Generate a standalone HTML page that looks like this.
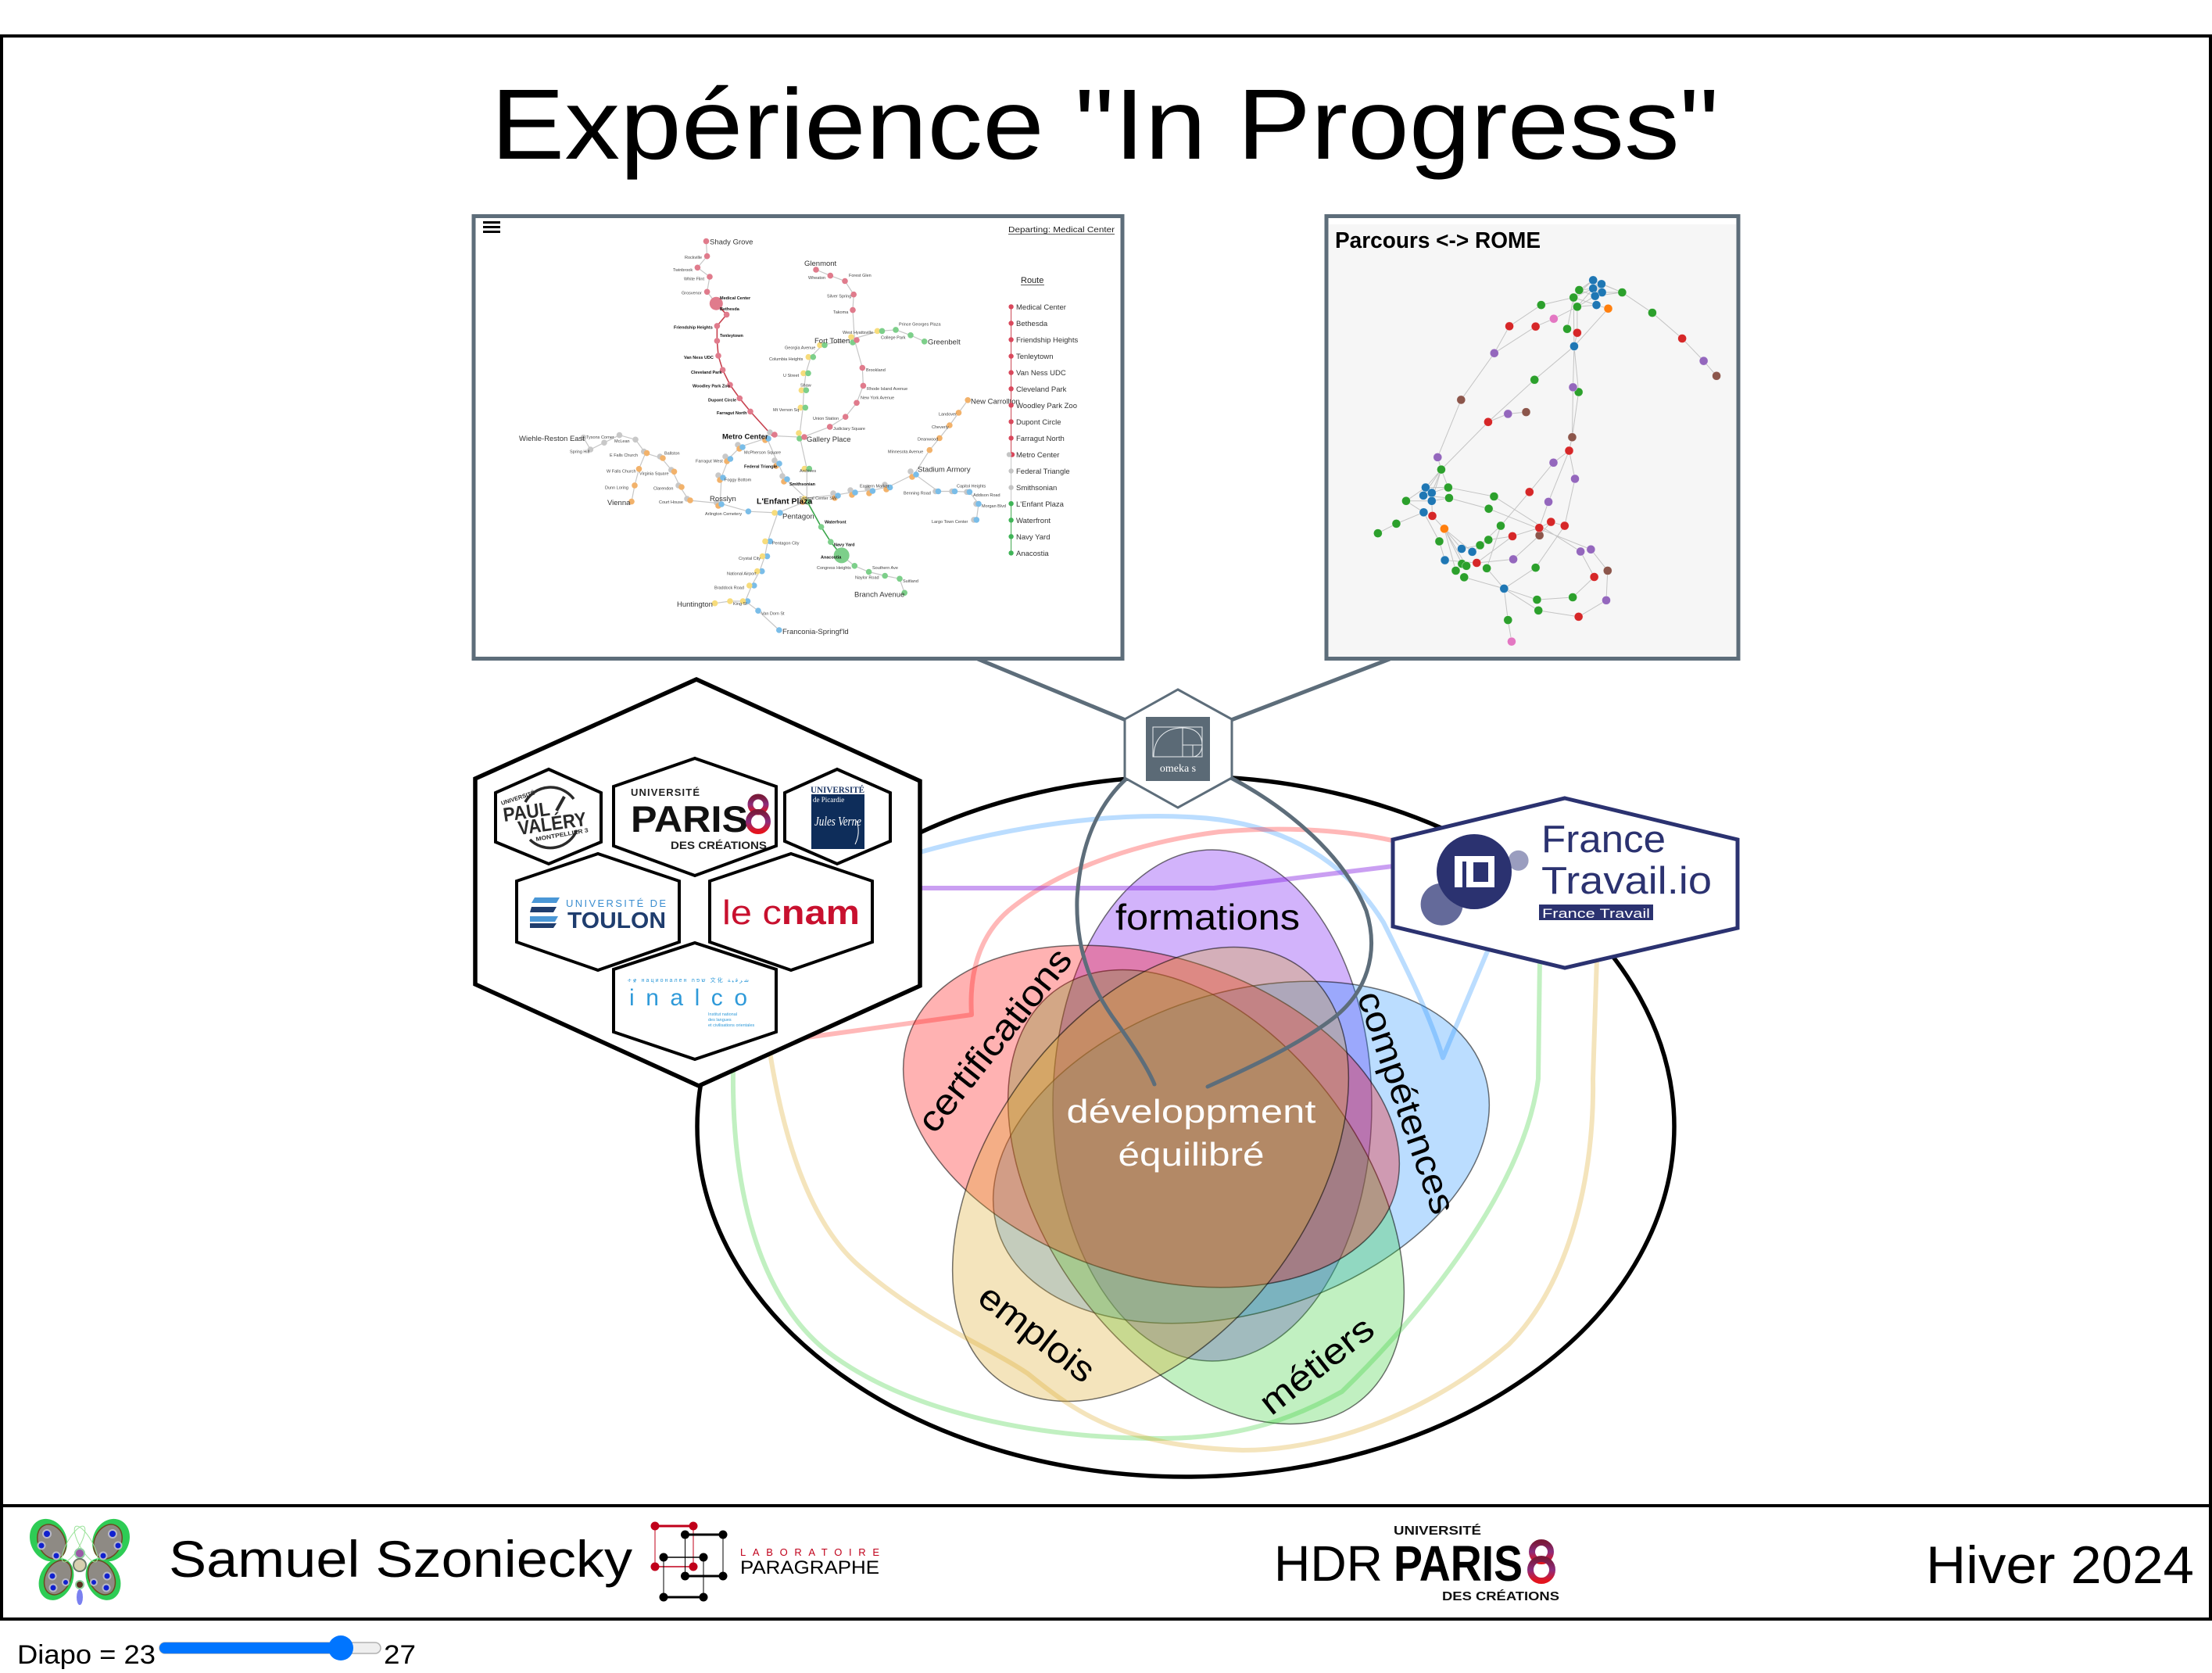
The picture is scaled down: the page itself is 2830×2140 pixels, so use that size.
<!DOCTYPE html>
<html><head><meta charset="utf-8"><style>html,body{margin:0;padding:0;background:#fff;width:2830px;height:2140px;overflow:hidden}svg{display:block}</style></head>
<body>
<svg width="2830" height="2140" viewBox="0 0 2830 2140" xmlns="http://www.w3.org/2000/svg" font-family="'Liberation Sans', Arial, sans-serif">
<defs>
<linearGradient id="g8" x1="0" y1="0" x2="0" y2="1"><stop offset="0" stop-color="#7a1a3a"/><stop offset="0.5" stop-color="#8b2c7d"/><stop offset="1" stop-color="#e3141e"/></linearGradient>
</defs>
<rect x="0" y="0" width="2830" height="2140" fill="#fff"/>
<!-- frame -->
<rect x="2" y="46" width="2826" height="1880" fill="none" stroke="#000" stroke-width="4"/>
<rect x="2" y="1926" width="2826" height="145" fill="none" stroke="#000" stroke-width="4"/>
<!-- title -->
<text x="628" y="203" font-size="128" textLength="1571" lengthAdjust="spacingAndGlyphs" fill="#000">Expérience "In Progress"</text>

<!-- METRO MAP BOX -->
<rect x="606" y="276.5" width="830" height="566" fill="#fff" stroke="#5d6d7a" stroke-width="5"/>
<rect x="618" y="283" width="22" height="3" fill="#000"/><rect x="618" y="289" width="22" height="3" fill="#000"/><rect x="618" y="295" width="22" height="3" fill="#000"/>
<text x="1290" y="297" font-size="10" textLength="136" lengthAdjust="spacingAndGlyphs" fill="#222">Departing: Medical Center</text>
<line x1="1290" y1="299.5" x2="1426" y2="299.5" stroke="#222" stroke-width="0.8"/>
<g fill="none" stroke="#c6c6c6" stroke-width="1.2">
<polyline points="903.5,308.6 904.6,327.7 892.4,342.3 908,354 904.6,373.3 916.3,388.2 929.6,402.4 917.4,416.9 917.4,436 919,455 924.6,473.2 934,492.3 946.3,509.5 960,526.4 988,557.4 1026.7,559.3 1061.7,545.9 1081.7,533.2 1096,515.3 1104.4,493.4 1103.3,470.5 1093.3,434.9 1091,396.6 1092.2,376.7 1081,359.5 1062.3,352.6 1044,345"/>
<polyline points="1182.7,436.8 1165,428.8 1146,421.9 1125.5,423.4 1089.4,434 1052,441.4 1037.3,456.7 1031,477.4 1028.4,499.2 1027.3,521.4 1022.9,557 1032.3,599.5 1032.3,640.8 1050.6,674 1062.8,693.2 1076.7,710.4 1093.3,723.8 1111.6,731.5 1132.2,736.5 1151,740.3 1157.2,758.3"/>
<polyline points="1032.3,640.8 995,656 982.3,692.4 978.5,711.6 971.8,730.7 961.8,749 953.5,769 934,769 914.6,771.7"/>
<polyline points="953.5,769 970,781.2 996.8,806"/>
<polyline points="995,656 957.4,654.2 921.3,643.9"/>
<polyline points="921.3,643.9 923,610.2 932.4,586.4 948,571.1 981.2,560.4 995,592.2 1005,612.8 1031,637 1070,633.1 1092,629.3 1114.4,627.4 1136.6,622.8 1169.9,606.3 1189.3,575.7 1202,560.4 1214.9,544 1226.5,527.9 1238.2,511.8"/>
<polyline points="1169.9,606.3 1200.4,628.5 1221.5,628.5 1240.4,629.3 1252,644.6 1249.3,664.9"/>
<polyline points="921.3,643.9 881.3,640 870.2,622.8 860.8,603.3 846.4,586 825.8,579.6 817.5,599.8 812,620.9 808,641.6"/>
<polyline points="825.8,579.6 813,562.3 792.5,556.6 773,566.2 755.4,575 746.5,559.7"/>
</g>
<polyline fill="none" stroke="#c8424f" stroke-width="1.6" points="916.3,388.2 929.6,402.4 917.4,416.9 917.4,436 919,455 924.6,473.2 934,492.3 946.3,509.5 960,526.4 988,557.4"/>
<polyline fill="none" stroke="#3aa64a" stroke-width="1.6" points="1032.3,640.8 1050.6,674 1062.8,693.2 1076.7,710.4"/>
<g fill="#c8c8c8">
<circle cx="917" cy="643" r="3.8"/><circle cx="919" cy="608" r="3.8"/><circle cx="928" cy="584" r="3.8"/><circle cx="944" cy="569" r="3.8"/><circle cx="985" cy="553" r="3.8"/><circle cx="991" cy="589" r="3.8"/><circle cx="1001" cy="609" r="3.8"/><circle cx="1066" cy="631" r="3.8"/><circle cx="1088" cy="627" r="3.8"/><circle cx="1110" cy="625" r="3.8"/><circle cx="1132" cy="620" r="3.8"/><circle cx="1165" cy="603" r="3.8"/><circle cx="1197" cy="628.5" r="3.8"/><circle cx="1218" cy="628.5" r="3.8"/><circle cx="1237" cy="629.3" r="3.8"/><circle cx="1249" cy="644.6" r="3.8"/><circle cx="1246" cy="664.9" r="3.8"/><circle cx="879" cy="638" r="3.8"/><circle cx="868" cy="621" r="3.8"/><circle cx="858.8" cy="601" r="3.8"/><circle cx="844.4" cy="584" r="3.8"/><circle cx="823.8" cy="577.6" r="3.8"/><circle cx="813" cy="562.3" r="3.8"/><circle cx="792.5" cy="556.6" r="3.8"/><circle cx="773" cy="566.2" r="3.8"/><circle cx="755.4" cy="575" r="3.8"/><circle cx="746.5" cy="559.7" r="3.8"/>
</g>
<g fill="#f2b26b">
<circle cx="919" cy="647" r="3.8"/><circle cx="921" cy="614" r="3.8"/><circle cx="930" cy="590" r="3.8"/><circle cx="946" cy="574" r="3.8"/><circle cx="979" cy="563" r="3.8"/><circle cx="993" cy="596" r="3.8"/><circle cx="1003" cy="616" r="3.8"/><circle cx="1027" cy="642" r="3.8"/><circle cx="1068" cy="637" r="3.8"/><circle cx="1090" cy="633" r="3.8"/><circle cx="1112" cy="631" r="3.8"/><circle cx="1134" cy="626" r="3.8"/><circle cx="1167" cy="610" r="3.8"/><circle cx="1189.3" cy="575.7" r="3.8"/><circle cx="1202" cy="560.4" r="3.8"/><circle cx="1214.9" cy="544" r="3.8"/><circle cx="1226.5" cy="527.9" r="3.8"/><circle cx="1238.2" cy="511.8" r="3.8"/><circle cx="883" cy="640" r="3.8"/><circle cx="872" cy="623" r="3.8"/><circle cx="862.5" cy="603.3" r="3.8"/><circle cx="848" cy="586" r="3.8"/><circle cx="827.5" cy="579.6" r="3.8"/><circle cx="817.5" cy="599.8" r="3.8"/><circle cx="812" cy="620.9" r="3.8"/><circle cx="808" cy="641.6" r="3.8"/>
</g>
<g fill="#7abde8">
<circle cx="998" cy="656" r="3.8"/><circle cx="985.3" cy="692.4" r="3.8"/><circle cx="981.5" cy="711.6" r="3.8"/><circle cx="974.8" cy="730.7" r="3.8"/><circle cx="964.8" cy="749" r="3.8"/><circle cx="956.5" cy="769" r="3.8"/><circle cx="970" cy="781.2" r="3.8"/><circle cx="996.8" cy="806" r="3.8"/><circle cx="957.4" cy="654.2" r="3.8"/><circle cx="923" cy="645" r="3.8"/><circle cx="925" cy="611" r="3.8"/><circle cx="934.4" cy="587" r="3.8"/><circle cx="950" cy="572" r="3.8"/><circle cx="983" cy="561" r="3.8"/><circle cx="997" cy="593" r="3.8"/><circle cx="1007" cy="613" r="3.8"/><circle cx="1072" cy="634" r="3.8"/><circle cx="1094" cy="630" r="3.8"/><circle cx="1116.4" cy="628" r="3.8"/><circle cx="1138.6" cy="623.5" r="3.8"/><circle cx="1172" cy="607" r="3.8"/><circle cx="1200.4" cy="628.5" r="3.8"/><circle cx="1221.5" cy="628.5" r="3.8"/><circle cx="1240.4" cy="629.3" r="3.8"/><circle cx="1252" cy="644.6" r="3.8"/><circle cx="1249.3" cy="664.9" r="3.8"/>
</g>
<g fill="#f7dc7c">
<circle cx="1089" cy="431" r="3.8"/><circle cx="1049" cy="441.4" r="3.8"/><circle cx="1034.3" cy="456.7" r="3.8"/><circle cx="1028" cy="477.4" r="3.8"/><circle cx="1025.4" cy="499.2" r="3.8"/><circle cx="1024.3" cy="521.4" r="3.8"/><circle cx="1022" cy="554" r="3.8"/><circle cx="1029.3" cy="599.5" r="3.8"/><circle cx="1029" cy="638" r="3.8"/><circle cx="991" cy="656" r="3.8"/><circle cx="979" cy="692.4" r="3.8"/><circle cx="975.5" cy="711.6" r="3.8"/><circle cx="968.8" cy="730.7" r="3.8"/><circle cx="958.8" cy="749" r="3.8"/><circle cx="950.5" cy="769" r="3.8"/><circle cx="934" cy="769" r="3.8"/><circle cx="914.6" cy="771.7" r="3.8"/><circle cx="1122.5" cy="423.4" r="3.8"/>
</g>
<g fill="#7dcf8a">
<circle cx="1182.7" cy="436.8" r="3.8"/><circle cx="1165" cy="428.8" r="3.8"/><circle cx="1146" cy="421.9" r="3.8"/><circle cx="1128.5" cy="423.4" r="3.8"/><circle cx="1091" cy="438" r="3.8"/><circle cx="1055" cy="441.4" r="3.8"/><circle cx="1040.3" cy="456.7" r="3.8"/><circle cx="1034" cy="477.4" r="3.8"/><circle cx="1031.4" cy="499.2" r="3.8"/><circle cx="1030.3" cy="521.4" r="3.8"/><circle cx="1022.9" cy="561" r="3.8"/><circle cx="1035.3" cy="599.5" r="3.8"/><circle cx="1034" cy="642" r="3.8"/><circle cx="1050.6" cy="674" r="3.8"/><circle cx="1062.8" cy="693.2" r="3.8"/><circle cx="1076.7" cy="710.4" r="10"/><circle cx="1093.3" cy="723.8" r="3.8"/><circle cx="1111.6" cy="731.5" r="3.8"/><circle cx="1132.2" cy="736.5" r="3.8"/><circle cx="1151" cy="740.3" r="3.8"/><circle cx="1157.2" cy="758.3" r="3.8"/>
</g>
<g fill="#e07b8c">
<circle cx="903.5" cy="308.6" r="3.8"/><circle cx="904.6" cy="327.7" r="3.8"/><circle cx="892.4" cy="342.3" r="3.8"/><circle cx="908" cy="354" r="3.8"/><circle cx="904.6" cy="373.3" r="3.8"/><circle cx="916.3" cy="388.2" r="8.5"/><circle cx="929.6" cy="402.4" r="3.8"/><circle cx="917.4" cy="416.9" r="3.8"/><circle cx="917.4" cy="436" r="3.8"/><circle cx="919" cy="455" r="3.8"/><circle cx="924.6" cy="473.2" r="3.8"/><circle cx="934" cy="492.3" r="3.8"/><circle cx="946.3" cy="509.5" r="3.8"/><circle cx="960" cy="526.4" r="3.8"/><circle cx="991" cy="556" r="3.8"/><circle cx="1029" cy="559" r="3.8"/><circle cx="1061.7" cy="545.9" r="3.8"/><circle cx="1081.7" cy="533.2" r="3.8"/><circle cx="1096" cy="515.3" r="3.8"/><circle cx="1104.4" cy="493.4" r="3.8"/><circle cx="1103.3" cy="470.5" r="3.8"/><circle cx="1096" cy="435" r="3.8"/><circle cx="1091" cy="396.6" r="3.8"/><circle cx="1092.2" cy="376.7" r="3.8"/><circle cx="1081" cy="359.5" r="3.8"/><circle cx="1062.3" cy="352.6" r="3.8"/><circle cx="1044" cy="345" r="3.8"/>
</g>
<g font-size="9.5" fill="#333">
<text x="908" y="312.4">Shady Grove</text><text x="1029" y="340">Glenmont</text><text x="1187" y="440.6">Greenbelt</text><text x="1042" y="439">Fort Totten</text>
<text x="924" y="561.6" font-weight="bold" fill="#111">Metro Center</text><text x="1032" y="565">Gallery Place</text><text x="664" y="564.2">Wiehle-Reston East</text>
<text x="777" y="645.8">Vienna</text><text x="908" y="640.8">Rosslyn</text><text x="968" y="644.6" font-weight="bold" font-size="10.5" fill="#111">L'Enfant Plaza</text>
<text x="1001" y="663.7">Pentagon</text><text x="1174" y="603.3">Stadium Armory</text><text x="1242" y="516.4">New Carrollton</text>
<text x="1093" y="763.3">Branch Avenue</text><text x="866" y="775.9">Huntington</text><text x="1001" y="811">Franconia-Springf'ld</text>
</g>
<g font-size="5.5" fill="#444">
<text x="876" y="330.8">Rockville</text><text x="861" y="346.9">Twinbrook</text><text x="875" y="358.4">White Flint</text><text x="872" y="376.7">Grosvenor</text>
<g font-weight="bold" fill="#111"><text x="921" y="383.2">Medical Center</text><text x="921" y="397">Bethesda</text><text x="862" y="420.7">Friendship Heights</text><text x="921" y="431">Tenleytown</text><text x="875" y="459">Van Ness UDC</text><text x="884" y="477.8">Cleveland Park</text><text x="886" y="495.4">Woodley Park Zoo</text><text x="906" y="513.3">Dupont Circle</text><text x="917" y="530.2">Farragut North</text><text x="952" y="598.3">Federal Triangle</text><text x="1010" y="621">Smithsonian</text><text x="1055" y="669.5">Waterfront</text><text x="1067" y="698.6">Navy Yard</text><text x="1050" y="714.6">Anacostia</text></g>
<text x="1034" y="356.8">Wheaton</text><text x="1086" y="354">Forest Glen</text><text x="1058" y="380.5">Silver Spring</text><text x="1066" y="400.8">Takoma</text><text x="1078" y="427.2">West Hyattsville</text><text x="1150" y="416.5">Prince Georges Plaza</text><text x="1127" y="433.4">College Park</text><text x="1004" y="446.4">Georgia Avenue</text><text x="984" y="461">Columbia Heights</text><text x="1002" y="482">U Street</text><text x="1024" y="494.6">Shaw</text><text x="989" y="526">Mt Vernon Sq</text><text x="1108" y="475">Brookland</text><text x="1109" y="498.8">Rhode Island Avenue</text><text x="1101" y="510.3">New York Avenue</text><text x="1040" y="537">Union Station</text><text x="1066" y="550">Judiciary Square</text>
<text x="952" y="580.3">McPherson Square</text><text x="890" y="591.4">Farragut West</text><text x="1023" y="604">Archives</text><text x="927" y="615.5">Foggy Bottom</text><text x="1023" y="638.9">Federal Center SW</text><text x="1100" y="623.6">Eastern Market</text><text x="1156" y="632.7">Benning Road</text><text x="1224" y="623.6">Capitol Heights</text><text x="1245" y="635">Addison Road</text><text x="1256" y="649.2">Morgan Blvd</text><text x="1192" y="669">Largo Town Center</text><text x="1136" y="579.6">Minnesota Avenue</text><text x="1174" y="563.5">Deanwood</text><text x="1192" y="548.2">Cheverly</text><text x="1201" y="531.3">Landover</text>
<text x="729" y="579.6">Spring Hill</text><text x="750" y="561.2">Tysons Corner</text><text x="786" y="566.2">McLean</text><text x="780" y="583.8">E Falls Church</text><text x="850" y="581.5">Ballston</text><text x="776" y="604.4">W Falls Church</text><text x="818" y="607.5">Virginia Square</text><text x="774" y="625.5">Dunn Loring</text><text x="836" y="626.6">Clarendon</text><text x="843" y="643.8">Court House</text><text x="902" y="659.2">Arlington Cemetery</text>
<text x="1045" y="728">Congress Heights</text><text x="1116" y="728">Southern Ave</text><text x="1094" y="740.3">Naylor Road</text><text x="1155" y="745.2">Suitland</text>
<text x="988" y="696.3">Pentagon City</text><text x="945" y="716.2">Crystal City</text><text x="930" y="735.3">National Airport</text><text x="914" y="753.7">Braddock Road</text><text x="938" y="774">King St</text><text x="974" y="786.6">Van Dorn St</text>
</g>
<!-- legend -->
<text x="1306" y="362" font-size="11" fill="#222">Route</text><line x1="1306" y1="364.5" x2="1336" y2="364.5" stroke="#222" stroke-width="0.8"/>
<line x1="1293.6" y1="392.4" x2="1293.6" y2="581.5" stroke="#c8424f" stroke-width="1"/>
<line x1="1293.6" y1="581.5" x2="1293.6" y2="644.2" stroke="#c6c6c6" stroke-width="1"/>
<line x1="1293.6" y1="644.2" x2="1293.6" y2="707.4" stroke="#3aa64a" stroke-width="1"/>
<g fill="#d9485c"><circle cx="1293.6" cy="392.4" r="3.2"/><circle cx="1293.6" cy="413.5" r="3.2"/><circle cx="1293.6" cy="434.5" r="3.2"/><circle cx="1293.6" cy="455.6" r="3.2"/><circle cx="1293.6" cy="476.6" r="3.2"/><circle cx="1293.6" cy="497.3" r="3.2"/><circle cx="1293.6" cy="518.3" r="3.2"/><circle cx="1293.6" cy="539.4" r="3.2"/><circle cx="1293.6" cy="560.4" r="3.2"/><circle cx="1295" cy="581.5" r="3.2"/></g>
<g fill="#c4c4c4"><circle cx="1291" cy="581.5" r="3.2"/><circle cx="1293.6" cy="602.5" r="3.2"/><circle cx="1293.6" cy="623.6" r="3.2"/></g>
<g fill="#3fb457"><circle cx="1293.6" cy="644.2" r="3.2"/><circle cx="1293.6" cy="665.3" r="3.2"/><circle cx="1293.6" cy="686.3" r="3.2"/><circle cx="1293.6" cy="707.4" r="3.2"/></g>
<g font-size="9.5" fill="#333">
<text x="1300" y="396">Medical Center</text><text x="1300" y="417">Bethesda</text><text x="1300" y="438">Friendship Heights</text><text x="1300" y="459">Tenleytown</text><text x="1300" y="480">Van Ness UDC</text><text x="1300" y="501">Cleveland Park</text><text x="1300" y="522">Woodley Park Zoo</text><text x="1300" y="543">Dupont Circle</text><text x="1300" y="564">Farragut North</text><text x="1300" y="585">Metro Center</text><text x="1300" y="606">Federal Triangle</text><text x="1300" y="627">Smithsonian</text><text x="1300" y="648">L'Enfant Plaza</text><text x="1300" y="669">Waterfront</text><text x="1300" y="690">Navy Yard</text><text x="1300" y="711">Anacostia</text>
</g>

<!-- PARCOURS BOX -->
<rect x="1697" y="276.5" width="527" height="566" fill="#f6f6f6" stroke="#5d6d7a" stroke-width="5"/>
<rect x="1700" y="279" width="521" height="8" fill="#fff"/>
<text x="1708" y="317" font-size="29" font-weight="bold" textLength="263" lengthAdjust="spacingAndGlyphs" fill="#000">Parcours &lt;-&gt; ROME</text>
<g transform="translate(1680,260) scale(0.35714,0.3827)">
<g stroke="#c4c4c4" stroke-width="1" fill="none">
<path vector-effect="non-scaling-stroke" d="M953,290L1003,257M953,290L1003,285M953,290L1010,310M933,315L1003,257M933,315L1003,285M933,315L1015,340M946,346L1003,285M946,346L1010,310M946,346L1015,340M1107,298L1003,257M1107,298L1033,270M1107,298L1035,298M1107,298L1010,310M1003,257L1035,298M1003,285L1015,340M1033,270L1010,310M1015,340L1057,352
M933,315L817,340L703,411L649,501L530,657L446,849L459,890
M946,346L862,386L797,412L649,501
M946,346L946,433L935,478M933,315L935,478M910,420L933,315M1057,352L935,478
M1107,298L1215,366L1322,452L1399,527L1445,577
M935,478L931,615L928,782M951,631L928,782M935,478L951,631
M935,478L793,590L627,731L459,890M627,731L698,704L763,698
M928,782L917,827L861,867L775,965L672,1078L598,1143M917,827L843,998L810,1085M917,827L938,921L901,1078L797,1218L684,1288
M459,890L403,950M459,890L395,977M459,890L425,968M459,890L425,995M459,890L484,950M403,950L484,950M395,977L487,985M425,995L487,985M425,968L484,950
M333,995L403,950M333,995L425,995M333,995L396,1033L298,1071L232,1103
M484,950L648,980L958,1164M487,985L629,1021L995,1157
M958,1164L1007,1249L930,1317L802,1325L684,1288M995,1157L1055,1228L1050,1327L951,1382L807,1361L684,1288
M425,995L427,1045L470,1088M396,1033L452,1130L472,1193
M470,1088L532,1155M470,1088L570,1165M470,1088L533,1205M470,1088L549,1212M470,1088L511,1228
M472,1193L586,1202M532,1155L598,1143M570,1165L628,1125M586,1202L714,1113L810,1085L852,1065M586,1202L717,1190L811,1110L852,1065
M684,1288L698,1393L711,1465M541,1250L684,1288M622,1220L684,1288M628,1125L714,1113M622,1220L672,1078M852,1065L901,1078"/>
</g>
<g stroke="#fff" stroke-width="1">
<g fill="#8c564b"><ellipse cx="1445" cy="577" rx="15.4" ry="14.4"/><ellipse cx="530" cy="657" rx="15.4" ry="14.4"/><ellipse cx="763" cy="698" rx="15.4" ry="14.4"/><ellipse cx="928" cy="782" rx="15.4" ry="14.4"/><ellipse cx="811" cy="1110" rx="15.4" ry="14.4"/><ellipse cx="1055" cy="1228" rx="15.4" ry="14.4"/></g>
<g fill="#2ca02c"><ellipse cx="953" cy="290" rx="15.4" ry="14.4"/><ellipse cx="933" cy="315" rx="15.4" ry="14.4"/><ellipse cx="946" cy="346" rx="15.4" ry="14.4"/><ellipse cx="1107" cy="298" rx="15.4" ry="14.4"/><ellipse cx="817" cy="340" rx="15.4" ry="14.4"/><ellipse cx="1215" cy="366" rx="15.4" ry="14.4"/><ellipse cx="910" cy="420" rx="15.4" ry="14.4"/><ellipse cx="793" cy="590" rx="15.4" ry="14.4"/><ellipse cx="951" cy="631" rx="15.4" ry="14.4"/><ellipse cx="459" cy="890" rx="15.4" ry="14.4"/><ellipse cx="484" cy="950" rx="15.4" ry="14.4"/><ellipse cx="487" cy="985" rx="15.4" ry="14.4"/><ellipse cx="333" cy="995" rx="15.4" ry="14.4"/><ellipse cx="648" cy="980" rx="15.4" ry="14.4"/><ellipse cx="629" cy="1021" rx="15.4" ry="14.4"/><ellipse cx="298" cy="1071" rx="15.4" ry="14.4"/><ellipse cx="232" cy="1103" rx="15.4" ry="14.4"/><ellipse cx="672" cy="1078" rx="15.4" ry="14.4"/><ellipse cx="452" cy="1130" rx="15.4" ry="14.4"/><ellipse cx="598" cy="1143" rx="15.4" ry="14.4"/><ellipse cx="628" cy="1125" rx="15.4" ry="14.4"/><ellipse cx="533" cy="1205" rx="15.4" ry="14.4"/><ellipse cx="549" cy="1212" rx="15.4" ry="14.4"/><ellipse cx="511" cy="1228" rx="15.4" ry="14.4"/><ellipse cx="541" cy="1250" rx="15.4" ry="14.4"/><ellipse cx="622" cy="1220" rx="15.4" ry="14.4"/><ellipse cx="797" cy="1218" rx="15.4" ry="14.4"/><ellipse cx="802" cy="1325" rx="15.4" ry="14.4"/><ellipse cx="930" cy="1317" rx="15.4" ry="14.4"/><ellipse cx="807" cy="1361" rx="15.4" ry="14.4"/><ellipse cx="698" cy="1393" rx="15.4" ry="14.4"/></g>
<g fill="#1f77b4"><ellipse cx="1003" cy="257" rx="15.4" ry="14.4"/><ellipse cx="1033" cy="270" rx="15.4" ry="14.4"/><ellipse cx="1003" cy="285" rx="15.4" ry="14.4"/><ellipse cx="1035" cy="298" rx="15.4" ry="14.4"/><ellipse cx="1010" cy="310" rx="15.4" ry="14.4"/><ellipse cx="1015" cy="340" rx="15.4" ry="14.4"/><ellipse cx="935" cy="478" rx="15.4" ry="14.4"/><ellipse cx="403" cy="950" rx="15.4" ry="14.4"/><ellipse cx="425" cy="968" rx="15.4" ry="14.4"/><ellipse cx="395" cy="977" rx="15.4" ry="14.4"/><ellipse cx="425" cy="995" rx="15.4" ry="14.4"/><ellipse cx="396" cy="1033" rx="15.4" ry="14.4"/><ellipse cx="532" cy="1155" rx="15.4" ry="14.4"/><ellipse cx="570" cy="1165" rx="15.4" ry="14.4"/><ellipse cx="472" cy="1193" rx="15.4" ry="14.4"/><ellipse cx="684" cy="1288" rx="15.4" ry="14.4"/></g>
<g fill="#d62728"><ellipse cx="703" cy="411" rx="15.4" ry="14.4"/><ellipse cx="797" cy="412" rx="15.4" ry="14.4"/><ellipse cx="946" cy="433" rx="15.4" ry="14.4"/><ellipse cx="1322" cy="452" rx="15.4" ry="14.4"/><ellipse cx="627" cy="731" rx="15.4" ry="14.4"/><ellipse cx="917" cy="827" rx="15.4" ry="14.4"/><ellipse cx="775" cy="965" rx="15.4" ry="14.4"/><ellipse cx="427" cy="1045" rx="15.4" ry="14.4"/><ellipse cx="852" cy="1065" rx="15.4" ry="14.4"/><ellipse cx="810" cy="1085" rx="15.4" ry="14.4"/><ellipse cx="901" cy="1078" rx="15.4" ry="14.4"/><ellipse cx="714" cy="1113" rx="15.4" ry="14.4"/><ellipse cx="586" cy="1202" rx="15.4" ry="14.4"/><ellipse cx="1007" cy="1249" rx="15.4" ry="14.4"/><ellipse cx="951" cy="1382" rx="15.4" ry="14.4"/></g>
<g fill="#9467bd"><ellipse cx="649" cy="501" rx="15.4" ry="14.4"/><ellipse cx="1399" cy="527" rx="15.4" ry="14.4"/><ellipse cx="931" cy="615" rx="15.4" ry="14.4"/><ellipse cx="698" cy="704" rx="15.4" ry="14.4"/><ellipse cx="446" cy="849" rx="15.4" ry="14.4"/><ellipse cx="861" cy="867" rx="15.4" ry="14.4"/><ellipse cx="938" cy="921" rx="15.4" ry="14.4"/><ellipse cx="843" cy="998" rx="15.4" ry="14.4"/><ellipse cx="958" cy="1164" rx="15.4" ry="14.4"/><ellipse cx="995" cy="1157" rx="15.4" ry="14.4"/><ellipse cx="717" cy="1190" rx="15.4" ry="14.4"/><ellipse cx="1050" cy="1327" rx="15.4" ry="14.4"/></g>
<g fill="#ff7f0e"><ellipse cx="1057" cy="352" rx="15.4" ry="14.4"/><ellipse cx="470" cy="1088" rx="15.4" ry="14.4"/></g>
<g fill="#e377c2"><ellipse cx="862" cy="386" rx="15.4" ry="14.4"/><ellipse cx="711" cy="1465" rx="15.4" ry="14.4"/></g>
</g>
</g>

<!-- connectors to omeka -->
<line x1="1251" y1="843" x2="1440" y2="921" stroke="#5d6d7a" stroke-width="5"/>
<line x1="1778" y1="843" x2="1575" y2="921" stroke="#5d6d7a" stroke-width="5"/>

<!-- big ellipse -->
<ellipse cx="1517" cy="1441" rx="625" ry="448" fill="none" stroke="#000" stroke-width="5.5"/>

<!-- Venn ellipses -->
<g stroke="#000" stroke-opacity="0.55" stroke-width="1.5" fill-opacity="0.3">
<ellipse cx="0" cy="0" rx="204" ry="327" fill="rgb(105,2,242)" transform="translate(1551,1414)"/>
<ellipse cx="0" cy="0" rx="204" ry="327" fill="rgb(30,144,255)" transform="translate(1588,1474) rotate(72)"/>
<ellipse cx="0" cy="0" rx="204" ry="327" fill="rgb(50,205,50)" transform="translate(1543,1531) rotate(-36)"/>
<ellipse cx="0" cy="0" rx="204" ry="327" fill="rgb(255,0,0)" transform="translate(1473,1428) rotate(-72)"/>
<ellipse cx="0" cy="0" rx="204" ry="327" fill="rgb(218,165,32)" transform="translate(1472,1502) rotate(36)"/>
</g>

<!-- colored curves -->
<g fill="none" stroke-width="6" stroke-linejoin="round">
<path d="M1170,1092 C1300,1055 1420,1040 1520,1045 C1640,1050 1720,1100 1770,1180 C1800,1240 1830,1300 1846,1353 L1910,1200" stroke="rgb(30,144,255)" stroke-opacity="0.3"/>
<path d="M1025,1328 L1243,1298 C1240,1250 1250,1200 1290,1165 C1350,1115 1450,1078 1560,1064 C1650,1056 1730,1063 1790,1077" stroke="rgb(255,0,0)" stroke-opacity="0.28"/>
<path d="M1170,1136 L1553,1136 L1790,1107" stroke="rgb(138,43,226)" stroke-opacity="0.45"/>
<path d="M938,1368 C936,1520 970,1660 1060,1730 C1160,1805 1320,1840 1485,1840 C1590,1840 1660,1812 1717,1780 C1820,1680 1950,1520 1968,1380 L1970,1225" stroke="rgb(50,205,50)" stroke-opacity="0.3"/>
<path d="M985,1346 C1000,1440 1030,1560 1100,1620 C1180,1690 1260,1720 1315,1757 C1380,1810 1440,1850 1590,1855 C1720,1855 1850,1790 1930,1720 C2010,1640 2040,1500 2038,1380 L2043,1225" stroke="rgb(218,165,32)" stroke-opacity="0.3"/>
</g>

<!-- Venn labels -->
<g font-size="46" fill="#000" text-anchor="middle">
<text x="1545" y="1189" textLength="236" lengthAdjust="spacingAndGlyphs">formations</text>
<text transform="translate(1272,1330) rotate(-51.5)" dy="0.35em" textLength="286" lengthAdjust="spacingAndGlyphs">certifications</text>
<text transform="translate(1800,1410) rotate(70.9)" dy="0.35em" textLength="298" lengthAdjust="spacingAndGlyphs">compétences</text>
<text transform="translate(1327,1705) rotate(37.6)" dy="0.35em" textLength="174" lengthAdjust="spacingAndGlyphs">emplois</text>
<text transform="translate(1684,1746) rotate(-38.2)" dy="0.35em" textLength="172" lengthAdjust="spacingAndGlyphs">métiers</text>
</g>
<g font-size="42" fill="#fff" text-anchor="middle">
<text x="1524" y="1436" textLength="319" lengthAdjust="spacingAndGlyphs">développment</text>
<text x="1524" y="1491" textLength="187" lengthAdjust="spacingAndGlyphs">équilibré</text>
</g>

<!-- omeka curves -->
<g fill="none" stroke="#5d6d7a" stroke-width="5" stroke-linecap="round">
<path d="M1440,997 C1405,1030 1382,1080 1378,1150 C1376,1220 1400,1270 1430,1310 C1455,1345 1470,1370 1477,1387"/>
<path d="M1575,995 C1650,1035 1720,1095 1748,1165 C1765,1220 1748,1270 1705,1303 C1660,1337 1600,1365 1545,1390"/>
</g>

<!-- omeka hex -->
<polygon points="1507,882 1576,920 1576,995 1507,1033 1439,995 1439,920" fill="#fff" stroke="#5d6d7a" stroke-width="3"/>
<rect x="1466" y="917" width="82" height="82" fill="#5b6a76"/>
<g fill="none" stroke="#e8ecef" stroke-width="1">
<rect x="1475" y="930" width="63" height="38"/>
<line x1="1513" y1="930" x2="1513" y2="968"/>
<line x1="1513" y1="953" x2="1538" y2="953"/>
<line x1="1526" y1="953" x2="1526" y2="968"/>
<path d="M1476,968 C1476,945 1490,931 1513,931 C1530,931 1538,940 1538,953 C1538,962 1532,968 1526,968"/>
</g>
<text x="1507" y="987" font-family="'Liberation Serif', serif" font-size="14" fill="#fff" text-anchor="middle">omeka s</text>

<!-- France Travail hex -->
<polygon points="2002,1021 2223,1074 2223,1187 2002,1238 1782,1185 1782,1074" fill="#fff" stroke="#2b3270" stroke-width="5"/>
<circle cx="1844.6" cy="1156.7" r="27" fill="#646a9a"/>
<circle cx="1942.6" cy="1100.7" r="13" fill="#9a9dbf"/>
<circle cx="1886" cy="1115" r="48" fill="#2b3270"/>
<rect x="1861" y="1095" width="51" height="7" fill="#fff"/>
<rect x="1861" y="1102" width="10" height="33" fill="#fff"/>
<rect x="1876" y="1095" width="36" height="40" fill="#fff"/>
<rect x="1885" y="1103" width="19" height="25" fill="#2b3270"/>
<g fill="#2b3270" font-size="49">
<text x="1972" y="1090" textLength="159" lengthAdjust="spacingAndGlyphs">France</text>
<text x="1972" y="1143" textLength="218" lengthAdjust="spacingAndGlyphs">Travail.io</text>
</g>
<rect x="1969" y="1157" width="146" height="20" fill="#2b3270"/>
<text x="1973" y="1174" font-size="17" fill="#fff" textLength="138" lengthAdjust="spacingAndGlyphs">France Travail</text>

<!-- big left hexagon -->
<polygon points="891,869 1177,999 1177,1261 894,1389 608,1259 608,996" fill="#fff" stroke="#000" stroke-width="5.5"/>
<g fill="#fff" stroke="#000" stroke-width="4">
<polygon points="702,984 769,1014 769,1077 702,1105 634,1077 634,1014"/>
<polygon points="889,970 993,1006 993,1082 889,1120 785,1082 785,1006"/>
<polygon points="1071,984 1139,1014 1139,1076 1071,1105 1004,1076 1004,1014"/>
<polygon points="765,1092 869,1127 869,1205 765,1241 661,1205 661,1127"/>
<polygon points="1012,1092 1116,1127 1116,1205 1012,1241 908,1205 908,1127"/>
<polygon points="889,1206 993,1240 993,1320 889,1355 785,1320 785,1240"/>
</g>
<!-- Paul Valery -->
<g fill="none" stroke="#2a2a2a" stroke-width="3.5">
<path d="M672,1026 A37,37 0 0 1 734,1022"/>
<path d="M678,1074 A37,37 0 0 0 738,1062"/>
</g>
<line x1="722" y1="1019" x2="712" y2="1037" stroke="#2a2a2a" stroke-width="4"/>
<g fill="#2a2a2a" font-weight="bold">
<text transform="translate(642,1030) rotate(-18)" font-size="7.5">UNIVERSITÉ</text>
<text transform="translate(645,1051) rotate(-8)" font-size="25" textLength="60" lengthAdjust="spacingAndGlyphs">PAUL</text>
<text transform="translate(664,1068) rotate(-8)" font-size="25" textLength="88" lengthAdjust="spacingAndGlyphs">VALÉRY</text>
<text transform="translate(686,1076) rotate(-10)" font-size="7.5" textLength="68" lengthAdjust="spacingAndGlyphs">MONTPELLIER 3</text>
</g>
<!-- Paris 8 -->
<text x="807" y="1018" font-size="13" font-weight="bold" fill="#222" textLength="88" lengthAdjust="spacing">UNIVERSITÉ</text>
<text x="807" y="1064" font-size="47" font-weight="bold" fill="#111" textLength="150" lengthAdjust="spacingAndGlyphs">PARIS</text>
<circle cx="970" cy="1029" r="10" fill="none" stroke="url(#g8)" stroke-width="7"/>
<circle cx="970" cy="1051" r="12.5" fill="none" stroke="url(#g8)" stroke-width="7"/>
<text x="858" y="1086" font-size="14" font-weight="bold" fill="#222" textLength="123" lengthAdjust="spacingAndGlyphs">DES CRÉATIONS</text>
<!-- Picardie -->
<text x="1037" y="1014" font-family="'Liberation Serif', serif" font-size="12" font-weight="bold" fill="#1d3766" textLength="69" lengthAdjust="spacingAndGlyphs">UNIVERSITÉ</text>
<rect x="1038" y="1016" width="68" height="70" fill="#0e2d5a"/>
<text x="1040" y="1026" font-family="'Liberation Serif', serif" font-size="9" fill="#fff">de Picardie</text>
<text x="1042" y="1056" font-family="'Liberation Serif', serif" font-style="italic" font-size="17" fill="#fff" textLength="60" lengthAdjust="spacingAndGlyphs">Jules Verne</text>
<path d="M1096,1050 C1100,1062 1098,1072 1094,1080" fill="none" stroke="#fff" stroke-width="1"/>
<!-- Toulon -->
<polygon points="684,1148 716,1148 712,1155 680,1155" fill="#4a97d6"/>
<polygon points="680,1160 712,1160 708,1167 678,1167" fill="#1f3d6e"/>
<polygon points="678,1172 714,1172 710,1179 678,1179" fill="#4a97d6"/>
<polygon points="678,1181 712,1181 708,1187 678,1187" fill="#1f3d6e"/>
<text x="724" y="1160" font-size="13" fill="#3b8ed0" textLength="128" lengthAdjust="spacing">UNIVERSITÉ DE</text>
<text x="726" y="1187" font-size="29" font-weight="bold" fill="#1f3d6e" textLength="126" lengthAdjust="spacingAndGlyphs">TOULON</text>
<!-- cnam -->
<text x="924" y="1182" font-size="44" fill="#c8102e" textLength="176" lengthAdjust="spacingAndGlyphs"><tspan>le c</tspan><tspan font-weight="bold">nam</tspan></text>
<!-- inalco -->
<text x="803" y="1256" font-size="7" fill="#2f9ad9" textLength="155" lengthAdjust="spacing">ተቋ национален שפה 文化 شرقية</text>
<text x="805" y="1286" font-size="30" fill="#2f9ad9" textLength="151" lengthAdjust="spacing">inalco</text>
<g font-size="5.5" fill="#2f9ad9"><text x="906" y="1299">Institut national</text><text x="906" y="1306">des langues</text><text x="906" y="1313">et civilisations orientales</text></g>

<!-- FOOTER butterfly -->
<g>
<ellipse cx="0" cy="0" rx="23" ry="28" fill="#2ecc55" transform="translate(62,1970) rotate(-25)"/>
<ellipse cx="0" cy="0" rx="23" ry="28" fill="#2ecc55" transform="translate(142,1970) rotate(25)"/>
<ellipse cx="0" cy="0" rx="21" ry="28" fill="#2ecc55" transform="translate(72,2020) rotate(25)"/>
<ellipse cx="0" cy="0" rx="21" ry="28" fill="#2ecc55" transform="translate(132,2020) rotate(-25)"/>
<g fill="#8e8a84" stroke="#6b4a20" stroke-width="1.5">
<ellipse cx="0" cy="0" rx="17" ry="23" transform="translate(66,1972) rotate(-25)"/>
<ellipse cx="0" cy="0" rx="17" ry="23" transform="translate(138,1972) rotate(25)"/>
<ellipse cx="0" cy="0" rx="16" ry="23" transform="translate(74,2018) rotate(25)"/>
<ellipse cx="0" cy="0" rx="16" ry="23" transform="translate(130,2018) rotate(-25)"/>
</g>
<g fill="#1020d0" stroke="#b8b8c8" stroke-width="2">
<circle cx="60" cy="1962" r="5"/><circle cx="53" cy="1977" r="4.5"/><circle cx="72" cy="1990" r="4.5"/>
<circle cx="144" cy="1962" r="5"/><circle cx="151" cy="1977" r="4.5"/><circle cx="132" cy="1990" r="4.5"/>
<circle cx="67" cy="2016" r="4.5"/><circle cx="68" cy="2031" r="4.5"/><circle cx="84" cy="2024" r="4"/>
<circle cx="137" cy="2016" r="4.5"/><circle cx="136" cy="2031" r="4.5"/><circle cx="120" cy="2024" r="4"/>
</g>
<g fill="none" stroke="#9be39b" stroke-width="1">
<ellipse cx="0" cy="0" rx="8" ry="26" transform="translate(94,1975) rotate(30)"/>
<ellipse cx="0" cy="0" rx="8" ry="26" transform="translate(110,1975) rotate(-30)"/>
</g>
<circle cx="102" cy="1987" r="6" fill="#9a5aa8" stroke="#8fd0a0" stroke-width="2"/>
<circle cx="102" cy="2002" r="8" fill="#d8cfb0" stroke="#6a7a6a" stroke-width="2"/>
<circle cx="102" cy="2027" r="5" fill="#5a3020" stroke="#8fd0a0" stroke-width="2"/>
<ellipse cx="102" cy="2043" rx="4" ry="10" fill="#7a80f0"/>
</g>
<text x="216" y="2017" font-size="66" fill="#000" textLength="593" lengthAdjust="spacingAndGlyphs">Samuel Szoniecky</text>
<!-- paragraphe logo -->
<rect x="838" y="1952" width="49" height="52" fill="none" stroke="#c0001a" stroke-width="1"/>
<line x1="838" y1="1952" x2="887" y2="1952" stroke="#c0001a" stroke-width="3"/>
<line x1="838" y1="2004" x2="887" y2="2004" stroke="#c0001a" stroke-width="1.5"/>
<g stroke="#000">
<line x1="876.5" y1="1963" x2="925" y2="1963" stroke-width="3"/><line x1="849" y1="1992" x2="900" y2="1992" stroke-width="1.5"/><line x1="876.5" y1="2016" x2="925" y2="2016" stroke-width="3"/><line x1="849" y1="2043" x2="900" y2="2043" stroke-width="3"/>
<line x1="876.5" y1="1963" x2="876.5" y2="2016" stroke-width="1"/><line x1="925" y1="1963" x2="925" y2="2016" stroke-width="1"/><line x1="849" y1="1992" x2="849" y2="2043" stroke-width="1"/><line x1="900" y1="1992" x2="900" y2="2043" stroke-width="1"/>
</g>
<g fill="#c0001a"><circle cx="838" cy="1952" r="5.5"/><circle cx="887" cy="1952" r="5.5"/><circle cx="838" cy="2004" r="5.5"/><circle cx="887" cy="2004" r="5.5"/></g>
<g fill="#000"><circle cx="876.5" cy="1963" r="5.5"/><circle cx="925" cy="1963" r="5.5"/><circle cx="849" cy="1992" r="5.5"/><circle cx="900" cy="1992" r="5.5"/><circle cx="876.5" cy="2016" r="5.5"/><circle cx="925" cy="2016" r="5.5"/><circle cx="849" cy="2043" r="5.5"/><circle cx="900" cy="2043" r="5.5"/></g>
<text x="947" y="1990" font-size="13" fill="#c0001a" textLength="178" lengthAdjust="spacing">LABORATOIRE</text>
<text x="947" y="2013" font-size="24" fill="#000" textLength="178" lengthAdjust="spacingAndGlyphs">PARAGRAPHE</text>
<!-- HDR Paris 8 -->
<text x="1783" y="1963" font-size="16" font-weight="bold" fill="#111" textLength="112" lengthAdjust="spacingAndGlyphs">UNIVERSITÉ</text>
<text x="1630" y="2022" font-size="64" fill="#000" textLength="139" lengthAdjust="spacingAndGlyphs">HDR</text>
<text x="1783" y="2022" font-size="64" font-weight="bold" fill="#000" textLength="165" lengthAdjust="spacingAndGlyphs">PARIS</text>
<circle cx="1972" cy="1985" r="12" fill="none" stroke="url(#g8)" stroke-width="8"/>
<circle cx="1972" cy="2008" r="14" fill="none" stroke="url(#g8)" stroke-width="8"/>
<text x="1845" y="2047" font-size="16" font-weight="bold" fill="#111" textLength="150" lengthAdjust="spacingAndGlyphs">DES CRÉATIONS</text>
<text x="2464" y="2025" font-size="68" fill="#000" textLength="343" lengthAdjust="spacingAndGlyphs">Hiver 2024</text>

<!-- slider -->
<text x="22" y="2128" font-size="34" fill="#000" textLength="177" lengthAdjust="spacingAndGlyphs">Diapo = 23</text>
<rect x="204" y="2101" width="283" height="14" rx="7" fill="#efefef" stroke="#b2b2b2" stroke-width="1.5"/>
<rect x="204" y="2101" width="232" height="14" rx="7" fill="#0075ff"/>
<circle cx="436" cy="2108" r="16" fill="#0075ff"/>
<text x="491" y="2128" font-size="34" fill="#000" textLength="41" lengthAdjust="spacingAndGlyphs">27</text>
</svg>
</body></html>
